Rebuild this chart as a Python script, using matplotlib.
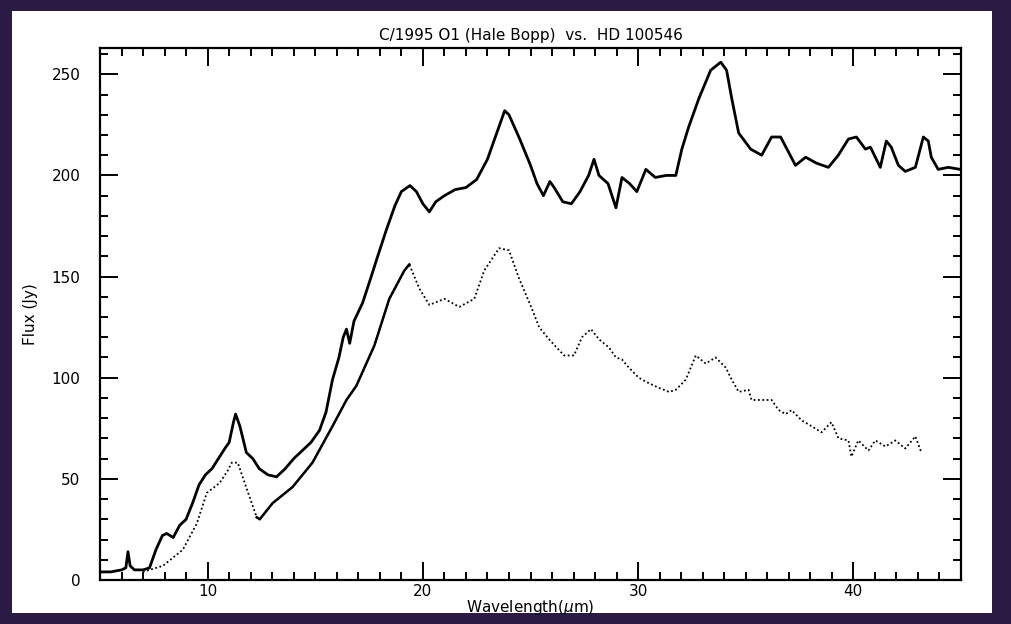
import numpy as np
import matplotlib
matplotlib.use("Agg")
import matplotlib.pyplot as plt
from matplotlib.patches import Rectangle
from matplotlib.ticker import MultipleLocator

# Hale-Bopp (solid curve)
wl_hb = [5.0, 5.5, 6.0, 6.2, 6.3, 6.4, 6.6, 7.0, 7.3, 7.6, 7.9, 8.1, 8.4, 8.7, 9.0, 9.3,
         9.6, 9.9, 10.2, 10.5, 10.8, 11.0, 11.2, 11.3, 11.5, 11.8, 12.1, 12.4, 12.8, 13.2,
         13.6, 14.0, 14.4, 14.8, 15.2, 15.5, 15.8, 16.1, 16.3, 16.45, 16.6, 16.8, 17.2,
         17.6, 17.9, 18.3, 18.7, 19.0, 19.4, 19.7, 20.0, 20.3, 20.6, 21.0, 21.5, 22.0,
         22.5, 23.0, 23.4, 23.8, 24.0, 24.5, 25.0, 25.3, 25.6, 25.9, 26.1, 26.5, 26.9,
         27.3, 27.7, 27.95, 28.18, 28.6, 28.97, 29.25, 29.6, 29.94, 30.36, 30.8, 31.3,
         31.75, 32.03, 32.35, 32.82, 33.37, 33.84, 34.11, 34.35, 34.67, 35.23, 35.74,
         36.2, 36.62, 37.31, 37.78, 38.3, 38.84, 39.3, 39.77, 40.14, 40.56, 40.79, 41.25,
         41.53, 41.76, 42.09, 42.41, 42.88, 43.25, 43.48, 43.62, 43.94, 44.41, 44.96]
flux_hb = [4, 4, 5, 6, 14, 7, 5, 5, 6, 15, 22, 23, 21, 27, 30, 38,
           47, 52, 55, 60, 65, 68, 78, 82, 76, 63, 60, 55, 52, 51,
           55, 60, 64, 68, 74, 83, 99, 110, 120, 124, 117, 128, 137,
           150, 160, 173, 185, 192, 195, 192, 186, 182, 187, 190, 193, 194,
           198, 208, 220, 232, 230, 218, 205, 196, 190, 197, 194, 187, 186,
           192, 200, 208, 200, 196, 184, 199, 196, 192, 203, 199, 200,
           200, 213, 224, 238, 252, 256, 252, 238, 221, 213, 210,
           219, 219, 205, 209, 206, 204, 210, 218, 219, 213, 214, 204,
           217, 214, 205, 202, 204, 219, 217, 209, 203, 204, 203]

# HD 100546 (dotted curve)
wl_hd = [6.99, 7.92, 8.85, 9.5, 9.96, 10.56, 10.93, 11.12, 11.4, 11.82, 12.28, 12.42,
         13.02, 13.95, 14.87, 15.8, 16.45, 16.91, 17.75, 18.44, 19.14, 19.37, 19.84,
         20.3, 21.0, 21.69, 22.39, 22.85, 23.54, 24.0, 24.47, 25.03, 25.4, 25.86, 26.56,
         27.02, 27.39, 27.81, 28.18, 28.64, 28.97, 29.25, 29.57, 30.03, 30.36, 30.96,
         31.43, 31.75, 32.21, 32.68, 33.14, 33.6, 34.07, 34.35, 34.67, 35.13, 35.27,
         35.74, 36.2, 36.53, 36.85, 37.13, 37.59, 38.06, 38.52, 38.98, 39.31, 39.77,
         39.91, 40.23, 40.7, 41.02, 41.49, 41.95, 42.41, 42.88, 43.16]
flux_hd = [4, 7, 15, 28, 43, 48, 54, 58, 58, 45, 31, 30,
           38, 46, 58, 76, 89, 96, 116, 139, 153, 156, 144,
           136, 139, 135, 139, 153, 164, 163, 149, 135, 125, 119, 111,
           111, 120, 124, 119, 115, 110, 109, 105, 100, 98, 95,
           93, 94, 99, 111, 107, 110, 105, 99, 93, 94, 89,
           89, 89, 84, 82, 84, 79, 76, 73, 78, 70, 69,
           61, 69, 64, 69, 66, 69, 65, 71, 63]

x_ticks = [10, 20, 30, 40]
y_ticks = [0, 50, 100, 150, 200, 250]

fig = plt.figure(figsize=(10.12, 6.24), dpi=100, facecolor="#2b1b44")
# white paper panel on the dark background
fig.patches.append(Rectangle((12 / 1012, 11 / 624), 980 / 1012, 602 / 624,
                             transform=fig.transFigure, facecolor="white",
                             edgecolor="none", zorder=-10))

ax = fig.add_axes([100 / 1012, 44 / 624, 861 / 1012, 532 / 624])
ax.set_facecolor("white")

ax.plot(wl_hb, flux_hb, color="black", lw=2.0)

wl_hd = np.array(wl_hd)
flux_hd = np.array(flux_hd)
ax.plot(wl_hd, flux_hd, color="black", lw=1.3, linestyle=(0, (1, 1.4)))
mid = (wl_hd >= 12.2) & (wl_hd <= 19.5)
ax.plot(wl_hd[mid], flux_hd[mid], color="black", lw=1.8)

ax.set_xlim(5, 45)
ax.set_ylim(0, 263)
ax.set_xticks(x_ticks)
ax.set_yticks(y_ticks)
ax.xaxis.set_minor_locator(MultipleLocator(1))
ax.yaxis.set_minor_locator(MultipleLocator(10))
ax.tick_params(which="both", direction="in", top=True, right=True,
               width=1.4, colors="black", labelsize=11)
ax.tick_params(which="major", length=13)
ax.tick_params(axis="x", which="major", pad=3)
ax.tick_params(axis="y", which="major", pad=14)
ax.tick_params(which="minor", length=6)
for sp in ax.spines.values():
    sp.set_linewidth(1.6)

ax.set_title("C/1995 O1 (Hale Bopp)  vs.  HD 100546", fontsize=11, pad=6)
ax.set_xlabel("Wavelength($\\mu$m)", fontsize=11, labelpad=-1)
ax.set_ylabel("Flux (Jy)", fontsize=11, labelpad=10)

fig.savefig("out.png", dpi=100, facecolor=fig.get_facecolor())
